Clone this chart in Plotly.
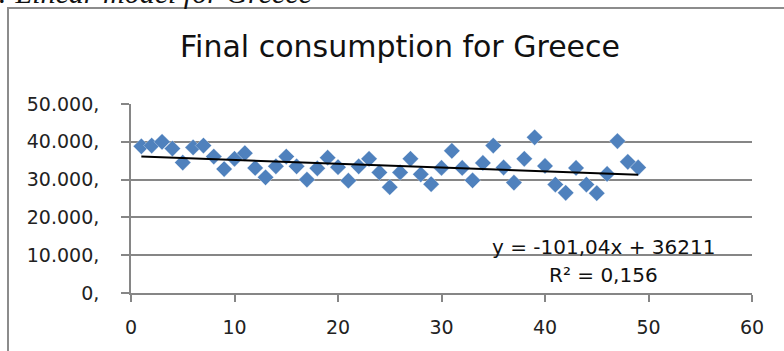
import plotly.graph_objects as go

# ---- data ----
periods = [1, 2, 3, 4, 5, 6, 7, 8, 9, 10, 11, 12, 13, 14, 15, 16, 17, 18, 19, 20,
           21, 22, 23, 24, 25, 26, 27, 28, 29, 30, 31, 32, 33, 34, 35, 36, 37, 38, 39, 40,
           41, 42, 43, 44, 45, 46, 47, 48, 49]
consumption = [38800, 39000, 40000, 38200, 34500, 38500, 39000, 36100, 32800, 35500,
               37000, 33100, 30600, 33500, 36100, 33500, 30000, 33000, 35800, 33300,
               29700, 33500, 35500, 31900, 28000, 31900, 35500, 31400, 28800, 33100,
               37600, 33100, 29800, 34400, 39000, 33200, 29200, 35500, 41200, 33600,
               28700, 26500, 33100, 28700, 26400, 31500, 40200, 34700, 33200]
trend_slope = -101.04
trend_intercept = 36211
trend_r2_label = "R² = 0,156"
trend_eq_label = "y = -101,04x + 36211"

x_tick_vals = [0, 10, 20, 30, 40, 50, 60]
x_tick_text = ["0", "10", "20", "30", "40", "50", "60"]
y_tick_vals = [0, 10000, 20000, 30000, 40000, 50000]
y_tick_text = ["0,", "10.000,", "20.000,", "30.000,", "40.000,", "50.000,"]

chart_title = "Final consumption for Greece"
caption = ": Linear model for Greece"

# ---- figure ----
GRAY = "#868686"
FONT = "DejaVu Sans"

trend_x = [periods[0], periods[-1]]
trend_y = [trend_slope * v + trend_intercept for v in trend_x]

fig = go.Figure()
fig.add_trace(go.Scatter(
    x=periods, y=consumption, mode="markers",
    marker=dict(symbol="diamond", size=12.5, color="#4F81BD",
                line=dict(width=0.5, color="rgba(255,255,255,0.6)")),
    hoverinfo="x+y",
))
fig.add_trace(go.Scatter(
    x=trend_x, y=trend_y, mode="lines",
    line=dict(color="black", width=2), hoverinfo="skip",
))

fig.update_layout(
    width=784, height=351,
    margin=dict(l=131, r=32, t=104, b=58),
    paper_bgcolor="white", plot_bgcolor="white",
    showlegend=False,
    font=dict(family=FONT, color="#222222"),
)

fig.update_xaxes(
    range=[0, 60], tickmode="array", tickvals=x_tick_vals, ticktext=x_tick_text,
    showgrid=False, zeroline=False,
    showline=True, linecolor=GRAY, linewidth=1.8,
    ticks="outside", ticklen=7, tickwidth=1.8, tickcolor=GRAY,
    tickfont=dict(family=FONT, size=19, color="#222222"),
    ticklabelstandoff=9,
)
fig.update_yaxes(
    range=[0, 50000], tickmode="array", tickvals=y_tick_vals, ticktext=y_tick_text,
    showgrid=True, gridcolor=GRAY, gridwidth=1.8, zeroline=False,
    showline=True, linecolor=GRAY, linewidth=1.8,
    ticks="outside", ticklen=8, tickwidth=1.8, tickcolor=GRAY,
    tickfont=dict(family=FONT, size=19, color="#222222"),
    ticklabelstandoff=18,
)

W_PLOT = 784 - 131 - 32
H_PLOT = 351 - 104 - 58


def px_x(p):
    return (p - 131) / W_PLOT


def px_y(p):
    return (351 - 58 - p) / H_PLOT


fig.add_annotation(
    text=chart_title, xref="paper", yref="paper",
    x=px_x(400), y=px_y(47), xanchor="center", yanchor="middle",
    showarrow=False, font=dict(family=FONT, size=30, color="#111111"),
)
fig.add_annotation(
    text=trend_eq_label, xref="paper", yref="paper",
    x=px_x(603), y=px_y(247), xanchor="center", yanchor="middle",
    showarrow=False, font=dict(family=FONT, size=20, color="#111111"),
)
fig.add_annotation(
    text=trend_r2_label, xref="paper", yref="paper",
    x=px_x(603), y=px_y(275), xanchor="center", yanchor="middle",
    showarrow=False, font=dict(family=FONT, size=20, color="#111111"),
)
fig.add_annotation(
    text="<i>" + caption + "</i>", xref="paper", yref="paper",
    x=px_x(-4), y=px_y(11), xanchor="left", yanchor="bottom",
    showarrow=False, font=dict(family="Liberation Serif", size=30, color="#111111"),
)

# chart frame
fig.add_shape(
    type="rect", xref="paper", yref="paper",
    x0=px_x(8), y0=px_y(400), x1=px_x(800), y1=px_y(8),
    line=dict(color="#8c8c8c", width=2), fillcolor="rgba(0,0,0,0)", layer="below",
)

fig.write_html(
    "out.html",
    config={"displayModeBar": False},
    post_script="document.body.style.margin='0px';document.body.style.overflow='hidden';",
)
